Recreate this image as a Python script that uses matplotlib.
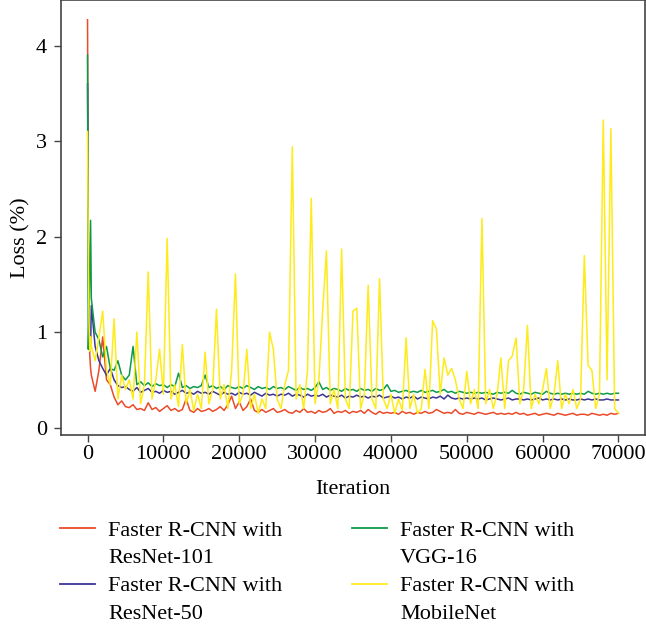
import matplotlib
matplotlib.use('Agg')
import matplotlib.pyplot as plt
from matplotlib.lines import Line2D

plt.rcParams['font.family'] = ['Liberation Serif', 'DejaVu Serif']

# iterations: a few early points, then every 500
iters = [0, 100, 200, 300, 400] + list(range(500, 70001, 500))

resnet101 = [4.27, 2.0, 1.0, 0.75, 0.62,
             0.55, 0.38, 0.6, 0.95, 0.5, 0.45, 0.32, 0.24, 0.28, 0.22,
             0.21, 0.24, 0.19, 0.2, 0.18, 0.26, 0.19, 0.21, 0.17, 0.2,
             0.23, 0.18, 0.2, 0.17, 0.19, 0.3, 0.18, 0.16, 0.2, 0.17,
             0.18, 0.2, 0.17, 0.19, 0.22, 0.18, 0.24, 0.33, 0.2, 0.27,
             0.18, 0.22, 0.3, 0.18, 0.16, 0.19, 0.16, 0.18, 0.2, 0.16,
             0.17, 0.19, 0.16, 0.15, 0.18, 0.16, 0.2, 0.16, 0.17, 0.15,
             0.18, 0.16, 0.17, 0.2, 0.15, 0.17, 0.16, 0.18, 0.15, 0.17,
             0.16, 0.18, 0.15, 0.19, 0.16, 0.14, 0.17, 0.15, 0.16, 0.15,
             0.16, 0.14, 0.17, 0.15, 0.16, 0.14, 0.16, 0.15, 0.17, 0.15,
             0.16, 0.19, 0.17, 0.15, 0.16, 0.15, 0.19, 0.15, 0.14, 0.16,
             0.15, 0.14, 0.16, 0.15, 0.14, 0.15, 0.16, 0.14, 0.15, 0.14,
             0.15, 0.14, 0.16, 0.14, 0.15, 0.13, 0.14, 0.15, 0.13, 0.14,
             0.15, 0.14, 0.13, 0.15, 0.14, 0.13, 0.14, 0.15, 0.13, 0.14,
             0.14, 0.13, 0.15, 0.14, 0.13, 0.14, 0.13, 0.15, 0.14, 0.15]

resnet50 = [3.6, 1.8, 0.95, 0.8, 0.85,
            1.28, 0.85, 0.7, 0.62, 0.55, 0.62, 0.5, 0.44, 0.42, 0.43,
            0.4, 0.38, 0.42, 0.37, 0.39, 0.41, 0.37, 0.38, 0.36, 0.39,
            0.37, 0.38, 0.35, 0.37, 0.39, 0.36, 0.37, 0.35, 0.38, 0.36,
            0.37, 0.35, 0.38, 0.36, 0.34, 0.37, 0.35, 0.36, 0.34, 0.37,
            0.35, 0.36, 0.34, 0.37, 0.35, 0.33, 0.36, 0.34, 0.35, 0.33,
            0.35, 0.34, 0.36, 0.33, 0.35, 0.34, 0.32, 0.35, 0.33, 0.34,
            0.33, 0.35, 0.32, 0.34, 0.33, 0.32, 0.34, 0.31, 0.33, 0.32,
            0.34, 0.32, 0.33, 0.31, 0.33, 0.32, 0.34, 0.31, 0.32, 0.33,
            0.31, 0.32, 0.3, 0.32, 0.31, 0.33, 0.3, 0.32, 0.31, 0.3,
            0.32, 0.31, 0.33, 0.3, 0.34, 0.31, 0.3, 0.31, 0.3, 0.31,
            0.3, 0.31, 0.3, 0.31, 0.29, 0.3, 0.31, 0.3, 0.29, 0.3,
            0.31, 0.29, 0.3, 0.3, 0.29, 0.3, 0.29, 0.3, 0.31, 0.29,
            0.3, 0.29, 0.3, 0.29, 0.3, 0.29, 0.3, 0.29, 0.29, 0.3,
            0.29, 0.3, 0.29, 0.3, 0.29, 0.29, 0.3, 0.29, 0.29, 0.29]

vgg16 = [3.9, 0.82, 1.2, 1.7, 2.17,
         1.35, 1.0, 0.92, 0.74, 0.85, 0.62, 0.6, 0.7, 0.55, 0.5,
         0.55, 0.85, 0.45, 0.48, 0.44, 0.47, 0.43, 0.46, 0.44, 0.45,
         0.42, 0.45, 0.43, 0.57, 0.42, 0.44, 0.41, 0.43, 0.42, 0.44,
         0.55, 0.42, 0.44, 0.41, 0.43, 0.4, 0.44, 0.42, 0.41, 0.43,
         0.41, 0.44, 0.42, 0.4, 0.43, 0.41, 0.42, 0.4, 0.43, 0.41,
         0.42, 0.4, 0.43, 0.41, 0.39, 0.42, 0.4, 0.41, 0.39, 0.42,
         0.48, 0.4, 0.42, 0.39, 0.41, 0.4, 0.38, 0.41, 0.39, 0.4,
         0.38, 0.41, 0.39, 0.4, 0.38, 0.41, 0.39, 0.4, 0.45, 0.38,
         0.39, 0.37, 0.38, 0.39, 0.37, 0.38, 0.37, 0.39, 0.37, 0.38,
         0.39, 0.37, 0.38, 0.4, 0.37, 0.38, 0.36, 0.38, 0.37, 0.36,
         0.37, 0.36, 0.37, 0.36, 0.37, 0.36, 0.35, 0.37, 0.36, 0.37,
         0.36, 0.39, 0.36, 0.35, 0.37, 0.36, 0.35, 0.37, 0.36, 0.35,
         0.38, 0.36, 0.35, 0.36, 0.35, 0.36, 0.35, 0.36, 0.35, 0.36,
         0.35, 0.38, 0.36, 0.35, 0.36, 0.35, 0.36, 0.35, 0.36, 0.36]

mobilenet = [3.1, 1.8, 1.1, 0.8, 0.95,
             0.85, 0.7, 0.95, 1.22, 0.6, 0.45, 1.14, 0.3, 0.55, 0.4,
             0.5, 0.3, 1.0, 0.25, 0.45, 1.63, 0.3, 0.5, 0.82, 0.35,
             1.98, 0.3, 0.45, 0.22, 0.87, 0.25, 0.4, 0.18, 0.35, 0.2,
             0.79, 0.25, 0.4, 1.24, 0.3, 0.45, 0.2, 0.6, 1.61, 0.25,
             0.35, 0.82, 0.2, 0.35, 0.15, 0.3, 0.2, 1.0, 0.82, 0.3,
             0.2, 0.45, 0.6, 2.94, 0.3, 0.45, 0.2, 0.6, 2.4, 0.25,
             0.5, 1.22, 1.85, 0.25, 0.4, 0.2, 1.87, 0.3, 0.2, 1.22,
             1.25, 0.2, 0.35, 1.49, 0.3, 0.2, 1.56, 0.3, 0.2, 0.35,
             0.15, 0.3, 0.18, 0.94, 0.2, 0.35, 0.15, 0.2, 0.61, 0.2,
             1.12, 1.03, 0.35, 0.73, 0.55, 0.62, 0.5, 0.3, 0.2, 0.59,
             0.25, 0.4, 0.2, 2.19, 0.25, 0.4, 0.2, 0.35, 0.73, 0.2,
             0.7, 0.75, 0.94, 0.25, 0.4, 1.07, 0.2, 0.35, 0.25, 0.4,
             0.62, 0.2, 0.35, 0.7, 0.2, 0.35, 0.25, 0.4, 0.2, 0.3,
             1.8, 0.65, 0.6, 0.2, 0.35, 3.22, 0.5, 3.13, 0.2, 0.15]

names = ['Faster R-CNN with\nResNet-101', 'Faster R-CNN with\nResNet-50',
         'Faster R-CNN with\nVGG-16', 'Faster R-CNN with\nMobileNet']
colors = ['#EA4B2A', '#3B3596', '#0C9A4A', '#FDEB1A']
series = [resnet101, resnet50, vgg16, mobilenet]

fig = plt.figure(figsize=(6.46, 6.25), dpi=100)
ax = fig.add_axes([61/646, 190/625, 584/646, 435/625])

for ys, c in zip(series, colors):
    ax.plot(iters, ys, color=c, lw=1.1)

ax.set_xticks(range(0, 70001, 10000))
ax.set_yticks([0, 1, 2, 3, 4])
ax.tick_params(direction='out', length=5, width=1, color='#444444',
               labelsize=16)
ax.tick_params(axis='x', pad=2)
ax.tick_params(axis='y', pad=5)
for s in ax.spines.values():
    s.set_color('#444444')
    s.set_linewidth(1.2)

ax.set_xlabel('Iteration', fontsize=16, labelpad=12)
ax.set_ylabel('Loss (%)', fontsize=16)
ax.yaxis.set_label_coords(-0.052, 0.453)

# legend: one row per text line, handle on the first line
handles, labels = [], []
for n, c in zip(names, colors):
    first, second = n.split('\n')
    handles += [Line2D([], [], color=c, lw=1.3), Line2D([], [], color='none')]
    labels += [first, second]
fig.legend(handles, labels, ncol=2, loc='upper left',
           bbox_to_anchor=(60/646, 1 - 520/625), frameon=False,
           fontsize=16, handlelength=1.58, handletextpad=0.58,
           labelspacing=0.33, columnspacing=3.15, borderpad=0,
           borderaxespad=0)

fig.savefig('out.png', dpi=100)
